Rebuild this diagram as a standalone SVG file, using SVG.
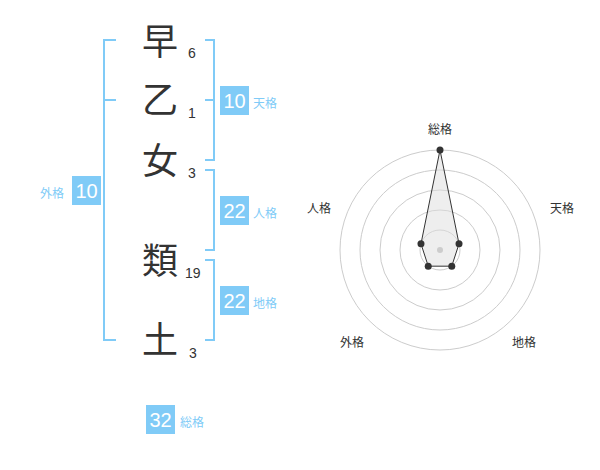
<svg xmlns="http://www.w3.org/2000/svg" width="600" height="470" viewBox="0 0 600 470">
<style>
.ch{font-family:"Noto Sans CJK JP","Noto Sans CJK SC",sans-serif;font-size:36px;fill:#333;text-anchor:middle}
.st{font-family:"Liberation Sans","Noto Sans",sans-serif;font-size:14px;fill:#333}
.br{fill:none;stroke:#80cbf7;stroke-width:2}
.bx{fill:#80cbf7}
.bn{font-family:"Liberation Sans","Noto Sans",sans-serif;font-size:20px;fill:#fff;text-anchor:middle}
.lb{font-family:"Noto Sans CJK JP","Noto Sans CJK SC",sans-serif;font-size:12px;fill:#80cbf7}
.rl{font-family:"Noto Sans CJK JP","Noto Sans CJK SC",sans-serif;font-size:12px;fill:#333;text-anchor:middle}
.ring{fill:none;stroke:#ccc;stroke-width:1}
.pt{fill:#333}
</style>
<rect width="600" height="470" fill="#fff"/>
<g id="chars">
<g id="c1"><text class="ch" x="160" y="55">早</text><text class="st" x="188" y="58">6</text></g>
<g id="c2"><text class="ch" x="160" y="113">乙</text><text class="st" x="188" y="118">1</text></g>
<g id="c3"><text class="ch" x="160" y="174">女</text><text class="st" x="188" y="178">3</text></g>
<g id="c4"><text class="ch" x="160" y="274">類</text><text class="st" x="185" y="278">19</text></g>
<g id="c5"><text class="ch" x="160" y="353">土</text><text class="st" x="189" y="358">3</text></g>
</g>
<g id="connectors">
<path class="br" d="M116,40 H104 V340 H116 M104,100 H116"/>
<path class="br" d="M205,40 H214 V160 H205 M205,100 H214"/>
<path class="br" d="M205,170 H214 V250 H205"/>
<path class="br" d="M205,260 H214 V340 H205"/>
</g>
<g id="tenkaku"><rect class="bx" x="220" y="86" width="29" height="29"/><text class="bn" x="234.5" y="108">10</text><text class="lb" x="253" y="108">天格</text></g>
<g id="jinkaku"><rect class="bx" x="220" y="196" width="29" height="29"/><text class="bn" x="234.5" y="218">22</text><text class="lb" x="253" y="218">人格</text></g>
<g id="chikaku"><rect class="bx" x="220" y="286" width="29" height="29"/><text class="bn" x="234.5" y="308">22</text><text class="lb" x="253" y="308">地格</text></g>
<g id="gaikaku"><rect class="bx" x="72" y="176" width="29" height="29"/><text class="bn" x="86.5" y="198">10</text><text class="lb" x="40" y="198">外格</text></g>
<g id="soukaku"><rect class="bx" x="146" y="405" width="29" height="29"/><text class="bn" x="160.5" y="427">32</text><text class="lb" x="180" y="427">総格</text></g>
<g id="radar">
<circle class="ring" cx="440" cy="250" r="100"/>
<circle class="ring" cx="440" cy="250" r="80"/>
<circle class="ring" cx="440" cy="250" r="60"/>
<circle class="ring" cx="440" cy="250" r="40"/>
<circle class="ring" cx="440" cy="250" r="20"/>
<polygon points="440,150 459.02,243.82 451.76,266.18 428.24,266.18 420.98,243.82" fill="#ddd" fill-opacity="0.5" stroke="#333" stroke-width="1"/>
<circle cx="440" cy="250" r="3" fill="#ccc"/>
<circle class="pt" cx="440" cy="150" r="3.5"/>
<circle class="pt" cx="459.02" cy="243.82" r="3.5"/>
<circle class="pt" cx="451.76" cy="266.18" r="3.5"/>
<circle class="pt" cx="428.24" cy="266.18" r="3.5"/>
<circle class="pt" cx="420.98" cy="243.82" r="3.5"/>
<text class="rl" x="440" y="134">総格</text>
<text class="rl" x="562" y="213">天格</text>
<text class="rl" x="524" y="347">地格</text>
<text class="rl" x="352" y="347">外格</text>
<text class="rl" x="319" y="213">人格</text>
</g>
</svg>
